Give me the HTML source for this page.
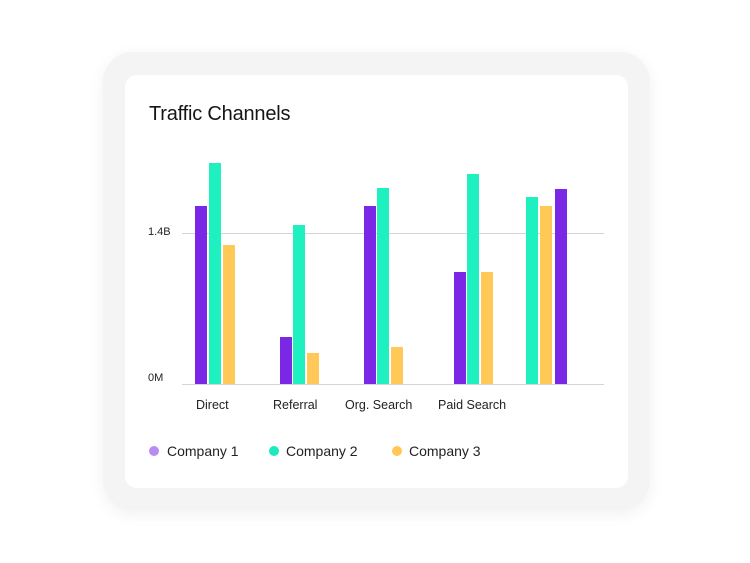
<!DOCTYPE html>
<html><head><style>
body{margin:0;width:750px;height:563px;background:#fff;overflow:hidden;font-family:"Liberation Sans",sans-serif}
.outer{position:absolute;left:103px;top:52px;width:547px;height:458px;border-radius:30px;background:#f4f4f4;box-shadow:0 4px 16px rgba(0,0,0,0.06)}
.card{position:absolute;left:125px;top:75px;width:503px;height:413px;border-radius:12px;background:#fff}
.t{position:absolute;font-size:20px;color:#151515;left:149px;top:103px;letter-spacing:-0.2px}
.s{position:absolute;font-size:12.5px;color:#222}
.b{position:absolute;width:12px}
.p{background:#7b28e6}.g{background:#1ef0c0}.y{background:#ffc857}
.d{position:absolute;width:10px;height:10px;border-radius:50%;top:446px}
</style></head><body>
<div class="outer"></div><div class="card"></div>
<div class="t">Traffic Channels</div>
<div style="position:absolute;left:182px;top:233px;width:422px;height:1px;background:#d4d4d8"></div>
<div style="position:absolute;left:182px;top:384px;width:422px;height:1px;background:#d4d4d8"></div>
<div class="s" style="left:148px;top:226px;font-size:11px">1.4B</div>
<div class="s" style="left:148px;top:372px;font-size:11px">0M</div>
<div class="b p" style="left:195px;top:206px;height:178px"></div>
<div class="b g" style="left:209px;top:163px;height:221px"></div>
<div class="b y" style="left:223px;top:245px;height:139px"></div>
<div class="b p" style="left:280px;top:337px;height:47px"></div>
<div class="b g" style="left:293px;top:225px;height:159px"></div>
<div class="b y" style="left:307px;top:353px;height:31px"></div>
<div class="b p" style="left:364px;top:206px;height:178px"></div>
<div class="b g" style="left:377px;top:188px;height:196px"></div>
<div class="b y" style="left:391px;top:347px;height:37px"></div>
<div class="b p" style="left:454px;top:272px;height:112px"></div>
<div class="b g" style="left:467px;top:174px;height:210px"></div>
<div class="b y" style="left:481px;top:272px;height:112px"></div>
<div class="b g" style="left:526px;top:197px;height:187px"></div>
<div class="b y" style="left:540px;top:206px;height:178px"></div>
<div class="b p" style="left:555px;top:189px;height:195px"></div>
<div class="s" style="left:196px;top:398px">Direct</div>
<div class="s" style="left:273px;top:398px">Referral</div>
<div class="s" style="left:345px;top:398px">Org. Search</div>
<div class="s" style="left:438px;top:398px">Paid Search</div>
<div class="d" style="left:149px;background:#b98cf5"></div>
<div class="s" style="left:167px;top:443px;font-size:14px">Company 1</div>
<div class="d" style="left:269px;background:#1ee8bd"></div>
<div class="s" style="left:286px;top:443px;font-size:14px">Company 2</div>
<div class="d" style="left:392px;background:#ffc857"></div>
<div class="s" style="left:409px;top:443px;font-size:14px">Company 3</div>
</body></html>
